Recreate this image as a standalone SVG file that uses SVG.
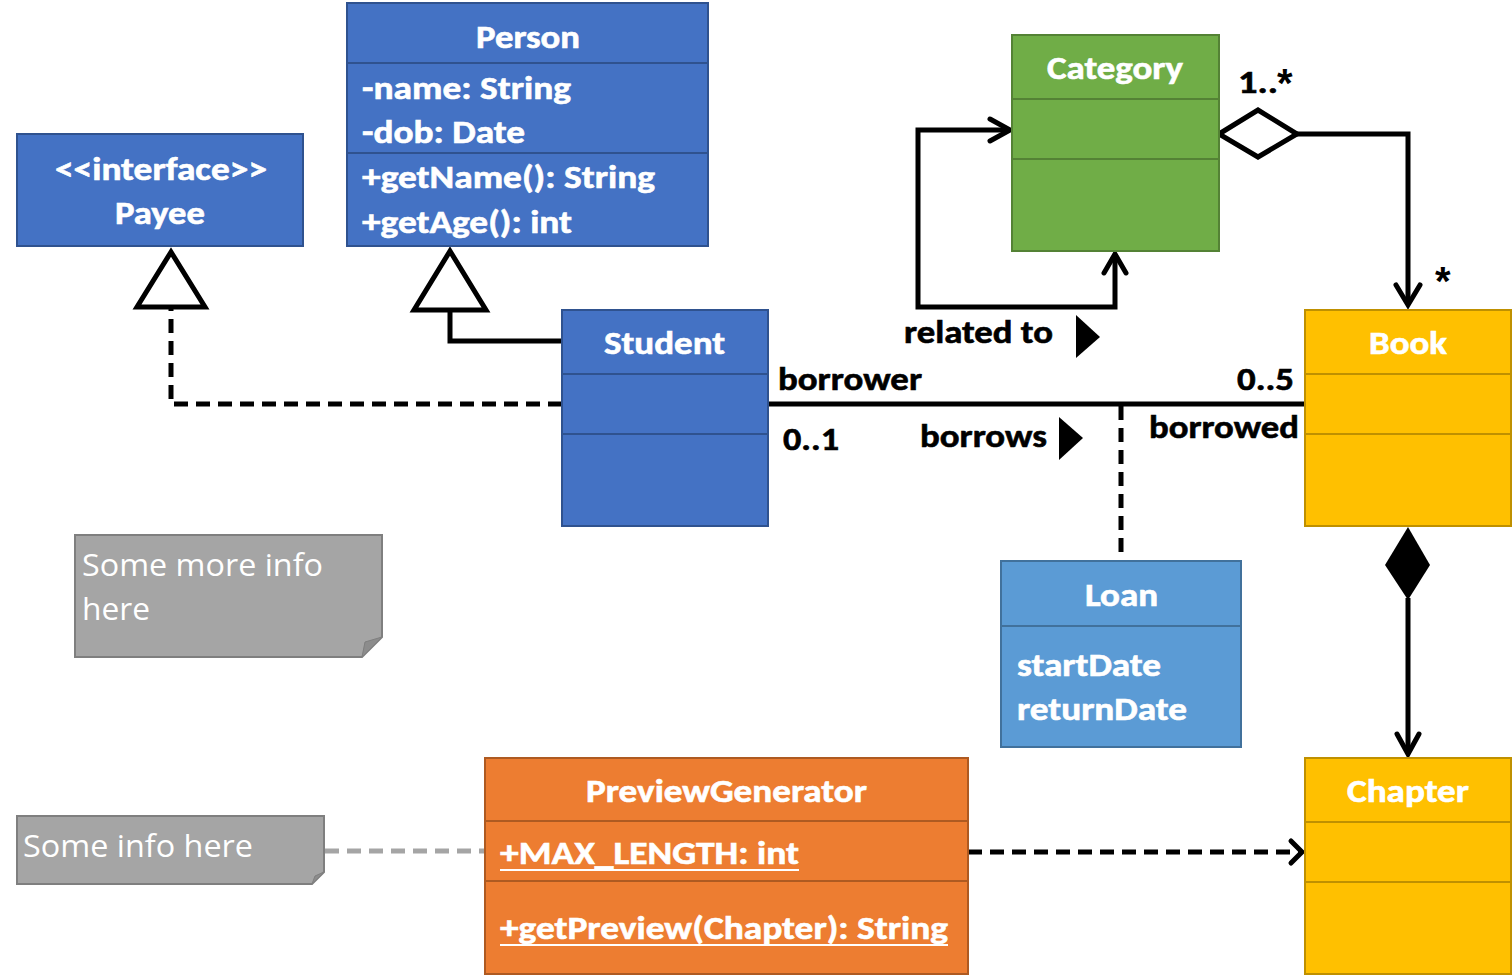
<svg xmlns="http://www.w3.org/2000/svg" width="1512" height="975" viewBox="0 0 1512 975">
  <defs>
    <style>
      .t { font-family: "Carlito", "Lato", "Liberation Sans", sans-serif; font-weight: bold; font-size: 33px; fill: #ffffff; stroke: #ffffff; stroke-width: 0.6; }
      .lbl { font-family: "Carlito", "Lato", "Liberation Sans", sans-serif; font-weight: bold; font-size: 33px; fill: #000000; stroke: #000000; stroke-width: 0.6; }
      .star { font-family: "Liberation Sans", sans-serif; font-weight: bold; font-size: 40px; fill: #000000; }
      .note { font-family: "Segoe UI", "Open Sans", "Noto Sans", sans-serif; font-size: 31px; fill: #ffffff; }
      .blue { fill: #4472C4; stroke: #2F528F; stroke-width: 2; }
      .lblue { fill: #5B9BD5; stroke: #41719C; stroke-width: 2; }
      .green { fill: #70AD47; stroke: #548235; stroke-width: 2; }
      .gold { fill: #FFC000; stroke: #BF9000; stroke-width: 2; }
      .orange { fill: #ED7D31; stroke: #AE5A21; stroke-width: 2; }
      .div-blue { stroke: #2F528F; stroke-width: 2; }
      .div-lblue { stroke: #41719C; stroke-width: 2; }
      .div-green { stroke: #548235; stroke-width: 2; }
      .div-gold { stroke: #BF9000; stroke-width: 2; }
      .div-orange { stroke: #AE5A21; stroke-width: 2; }
      .notebox { fill: #A5A5A5; stroke: #7F7F7F; stroke-width: 2; }
      .fold { fill: #8C8C8C; stroke: #7F7F7F; stroke-width: 1; }
      .line { fill: none; stroke: #000000; stroke-width: 5; }
      .dash { fill: none; stroke: #000000; stroke-width: 5; stroke-dasharray: 14 8; }
      .open-head { fill: none; stroke: #000000; stroke-width: 5; stroke-linecap: round; stroke-linejoin: miter; }
      .hollow { fill: #ffffff; stroke: #000000; stroke-width: 5; }
      .solid { fill: #000000; stroke: none; }
    </style>
  </defs>

  <!-- connectors -->
  <g id="connectors">
    <!-- Student realizes Payee -->
    <polyline class="dash" points="562,404 171,404 171,307"/>
    <polygon class="hollow" points="171,252 137,307 205,307"/>

    <!-- Student generalizes Person -->
    <polyline class="line" points="562,341 450,341 450,310"/>
    <polygon class="hollow" points="450,251 414,310 486,310"/>

    <!-- Category self association -->
    <polyline class="line" points="1010,130 918,130 918,307 1115,307 1115,254"/>
    <polyline class="open-head" points="990,119 1010,130 990,141"/>
    <polyline class="open-head" points="1104,273 1115,254 1126,273"/>
    <text class="lbl" x="904" y="343" textLength="149" lengthAdjust="spacingAndGlyphs">related to</text>
    <polygon class="solid" points="1076,315 1100,337 1076,358"/>

    <!-- Category aggregates Book -->
    <polyline class="line" points="1297,134 1408,134 1408,305"/>
    <polygon class="hollow" points="1219,134 1258,110 1297,134 1258,157"/>
    <polyline class="open-head" points="1396,285 1408,305 1420,285"/>
    <text class="lbl" x="1238" y="93" textLength="40" lengthAdjust="spacingAndGlyphs">1..</text>
    <text class="star" x="1277" y="97">*</text>
    <text class="star" x="1435" y="295">*</text>

    <!-- Student borrows Book -->
    <line class="line" x1="768" y1="404" x2="1305" y2="404"/>
    <text class="lbl" x="778" y="390" textLength="144" lengthAdjust="spacingAndGlyphs">borrower</text>
    <text class="lbl" x="783" y="450" textLength="56" lengthAdjust="spacingAndGlyphs">0..1</text>
    <text class="lbl" x="920" y="447" textLength="127" lengthAdjust="spacingAndGlyphs">borrows</text>
    <polygon class="solid" points="1059,417 1083,438 1059,460"/>
    <text class="lbl" x="1237" y="390" textLength="57" lengthAdjust="spacingAndGlyphs">0..5</text>
    <text class="lbl" x="1149" y="438" textLength="150" lengthAdjust="spacingAndGlyphs">borrowed</text>

    <!-- Loan association class link -->
    <line class="dash" x1="1121" y1="406" x2="1121" y2="561"/>

    <!-- Book composed of Chapter -->
    <line class="line" x1="1408" y1="598" x2="1408" y2="754"/>
    <polygon class="solid" points="1408,527 1430,565 1408,600 1385,565"/>
    <polyline class="open-head" points="1397,734 1408,754 1419,734"/>

    <!-- PreviewGenerator depends on Chapter -->
    <line class="dash" x1="968" y1="852" x2="1300" y2="852" stroke-dasharray="12 6"/>
    <polyline class="open-head" points="1291,841 1302,852 1291,863"/>

    <!-- note anchor -->
    <line x1="325" y1="851" x2="485" y2="851" stroke="#A5A5A5" stroke-width="5" stroke-dasharray="14 8"/>
  </g>

  <!-- Payee -->
  <g id="payee">
    <rect class="blue" x="17" y="134" width="286" height="112"/>
    <text class="t" x="55" y="180" textLength="212" lengthAdjust="spacingAndGlyphs">&lt;&lt;interface&gt;&gt;</text>
    <text class="t" x="115" y="224" textLength="90" lengthAdjust="spacingAndGlyphs">Payee</text>
  </g>

  <!-- Person -->
  <g id="person">
    <rect class="blue" x="347" y="3" width="361" height="243"/>
    <line class="div-blue" x1="347" y1="63" x2="708" y2="63"/>
    <line class="div-blue" x1="347" y1="153" x2="708" y2="153"/>
    <text class="t" x="476" y="48" textLength="104" lengthAdjust="spacingAndGlyphs">Person</text>
    <text class="t" x="362" y="99" textLength="209" lengthAdjust="spacingAndGlyphs">-name: String</text>
    <text class="t" x="362" y="143" textLength="163" lengthAdjust="spacingAndGlyphs">-dob: Date</text>
    <text class="t" x="362" y="188" textLength="293" lengthAdjust="spacingAndGlyphs">+getName(): String</text>
    <text class="t" x="362" y="233" textLength="210" lengthAdjust="spacingAndGlyphs">+getAge(): int</text>
  </g>

  <!-- Student -->
  <g id="student">
    <rect class="blue" x="562" y="310" width="206" height="216"/>
    <line class="div-blue" x1="562" y1="374" x2="768" y2="374"/>
    <line class="div-blue" x1="562" y1="434" x2="768" y2="434"/>
    <text class="t" x="604" y="354" textLength="121" lengthAdjust="spacingAndGlyphs">Student</text>
  </g>

  <!-- Category -->
  <g id="category">
    <rect class="green" x="1012" y="35" width="207" height="216"/>
    <line class="div-green" x1="1012" y1="99" x2="1219" y2="99"/>
    <line class="div-green" x1="1012" y1="159" x2="1219" y2="159"/>
    <text class="t" x="1047" y="79" textLength="136" lengthAdjust="spacingAndGlyphs">Category</text>
  </g>

  <!-- Book -->
  <g id="book">
    <rect class="gold" x="1305" y="310" width="206" height="216"/>
    <line class="div-gold" x1="1305" y1="374" x2="1511" y2="374"/>
    <line class="div-gold" x1="1305" y1="434" x2="1511" y2="434"/>
    <text class="t" x="1369" y="354" textLength="78" lengthAdjust="spacingAndGlyphs">Book</text>
  </g>

  <!-- Loan -->
  <g id="loan">
    <rect class="lblue" x="1001" y="561" width="240" height="186"/>
    <line class="div-lblue" x1="1001" y1="626" x2="1241" y2="626"/>
    <text class="t" x="1085" y="606" textLength="73" lengthAdjust="spacingAndGlyphs">Loan</text>
    <text class="t" x="1017" y="676" textLength="144" lengthAdjust="spacingAndGlyphs">startDate</text>
    <text class="t" x="1017" y="720" textLength="170" lengthAdjust="spacingAndGlyphs">returnDate</text>
  </g>

  <!-- Chapter -->
  <g id="chapter">
    <rect class="gold" x="1305" y="758" width="206" height="216"/>
    <line class="div-gold" x1="1305" y1="822" x2="1511" y2="822"/>
    <line class="div-gold" x1="1305" y1="882" x2="1511" y2="882"/>
    <text class="t" x="1347" y="802" textLength="122" lengthAdjust="spacingAndGlyphs">Chapter</text>
  </g>

  <!-- PreviewGenerator -->
  <g id="preview-generator">
    <rect class="orange" x="485" y="758" width="483" height="216"/>
    <line class="div-orange" x1="485" y1="821" x2="968" y2="821"/>
    <line class="div-orange" x1="485" y1="881" x2="968" y2="881"/>
    <text class="t" x="586" y="802" textLength="281" lengthAdjust="spacingAndGlyphs">PreviewGenerator</text>
    <text class="t" x="500" y="864" textLength="299" lengthAdjust="spacingAndGlyphs">+MAX_LENGTH: int</text>
    <line x1="500" y1="870" x2="799" y2="870" stroke="#ffffff" stroke-width="2"/>
    <text class="t" x="500" y="939" textLength="448" lengthAdjust="spacingAndGlyphs">+getPreview(Chapter): String</text>
    <line x1="500" y1="945" x2="948" y2="945" stroke="#ffffff" stroke-width="2"/>
  </g>

  <!-- note: Some more info here -->
  <g id="note-more-info">
    <polygon class="notebox" points="75,535 382,535 382,637 362,657 75,657"/>
    <polygon class="fold" points="362,657 365,642 382,637"/>
    <text class="note" x="82" y="576" textLength="241" lengthAdjust="spacingAndGlyphs">Some more info</text>
    <text class="note" x="82" y="620" textLength="68" lengthAdjust="spacingAndGlyphs">here</text>
  </g>

  <!-- note: Some info here -->
  <g id="note-info">
    <polygon class="notebox" points="17,816 324,816 324,872 312,884 17,884"/>
    <polygon class="fold" points="312,884 315,876 324,872"/>
    <text class="note" x="23" y="857" textLength="230" lengthAdjust="spacingAndGlyphs">Some info here</text>
  </g>
</svg>
